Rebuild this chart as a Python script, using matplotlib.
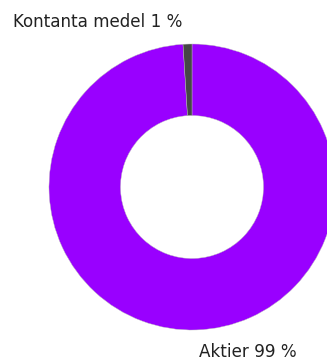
import matplotlib.pyplot as plt

labels = ['Aktier', 'Kontanta medel']
values = [99, 1]
colors = ['#9900ff', '#464646']

fig = plt.figure(figsize=(3.27, 3.6), dpi=100)
ax = fig.add_axes([49 / 327, 30 / 360, 286 / 327, 286 / 360])

ax.pie(values, colors=colors, startangle=90, counterclock=False,
       wedgeprops=dict(width=0.5, edgecolor='#bbbbbb', linewidth=0.3))
ax.set_xlim(-1, 1)
ax.set_ylim(-1, 1)
ax.set_aspect('equal')
ax.axis('off')

fig.text(13 / 327, 1 - 27 / 360, f'{labels[1]} {values[1]} %', fontsize=12.1,
         family='DejaVu Sans', color='#222222', ha='left', va='baseline')
fig.text(199 / 327, 1 - 357 / 360, f'{labels[0]} {values[0]} %', fontsize=12.1,
         family='DejaVu Sans', color='#222222', ha='left', va='baseline')

fig.savefig('out.png', dpi=100)
